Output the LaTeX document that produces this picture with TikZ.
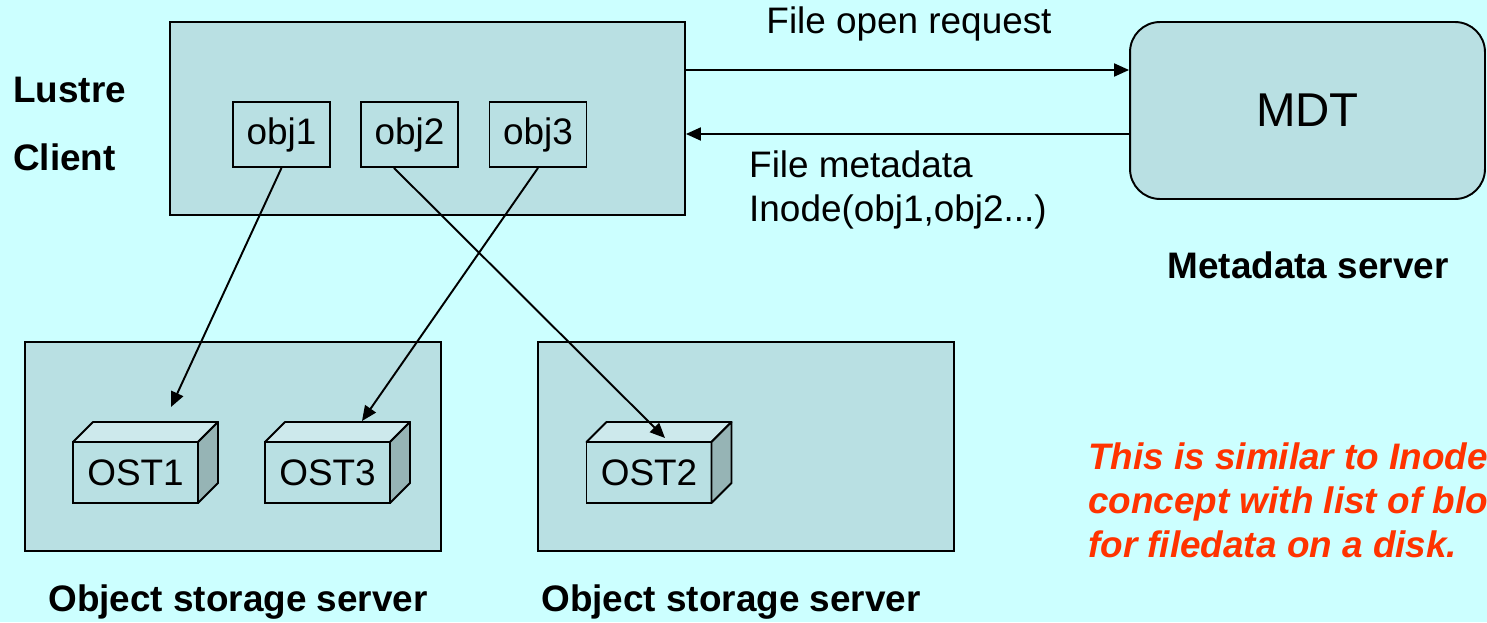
\documentclass[tikz,border=0pt]{standalone}
\usepackage{fontspec}
\setmainfont{Liberation Sans}
\usetikzlibrary{arrows.meta}
\definecolor{bgcyan}{RGB}{204,255,255}
\definecolor{boxfill}{RGB}{185,224,227}
\definecolor{cubetop}{RGB}{205,233,236}
\definecolor{cubeside}{RGB}{150,180,181}
\definecolor{notered}{RGB}{255,51,0}

\begin{document}
\begin{tikzpicture}[x=0.02cm,y=-0.02cm,
	every node/.style={font=\fontsize{21}{25.5}\selectfont},
	server/.style={draw,line width=1.1pt,fill=boxfill,minimum width=#1,minimum height=4.18cm},
	obj/.style={draw,line width=1.1pt,fill=boxfill,minimum width=1.94cm,minimum height=1.3cm,inner sep=0pt},
	ost/.style={draw,line width=1.1pt,fill=boxfill,minimum width=2.5cm,minimum height=1.22cm,inner sep=0pt,outer sep=0pt},
	title/.style={font=\fontsize{21}{25.5}\selectfont\bfseries},
	msg/.style={line width=1.1pt,-{Triangle[length=0.3cm,width=0.26cm]}}]

	\useasboundingbox[fill=bgcyan] (0,0) rectangle (1487,622);

	% client side
	\node[server=10.3cm,minimum height=3.86cm] (client) at (427.5,118.5) {};
	\node[title,anchor=west] (lustre) at (7,90) {Lustre};
	\node[title,anchor=west] (clientlbl) at (7,157) {Client};
	\node[obj] (obj1) at (281.5,134.5) {obj1};
	\node[obj] (obj2) at (409.5,134.5) {obj2};
	\node[obj] (obj3) at (538,134.5) {obj3};

	% metadata server
	\node[draw,line width=1.1pt,fill=boxfill,rounded corners=0.6cm,minimum width=7.1cm,minimum height=3.54cm,
		font=\fontsize{27}{31}\selectfont] (mdt) at (1307.5,110.5) {MDT};
	\node[title] (mdslbl) at (1308,265) {Metadata server};

	\draw[msg] (client.east |- 0,70) -- (mdt.west |- 0,70);
	\draw[msg] (mdt.west |- 0,134) -- (client.east |- 0,134);
	\node (openreq) at (909,24) {File open request};
	\node[anchor=west,align=left] (metadata) at (743,190) {File metadata\\Inode(obj1,obj2...)};

	% object storage servers
	\node[server=8.32cm] (oss1) at (233,446.5) {};
	\node[server=8.32cm] (oss2) at (746,446.5) {};
	\node[title] (oss1lbl) at (238,602) {Object storage server};
	\node[title] (oss2lbl) at (731,602) {Object storage server};

	\node[ost] (ost1) at (135.5,472.5) {OST1};
	\node[ost] (ost3) at (327.5,472.5) {OST3};
	\node[ost] (ost2) at (649,472.5) {OST2};
	\foreach \o in {ost1,ost2,ost3}{
		\filldraw[line width=1.1pt,line join=round,fill=cubetop] (\o.north west) -- ([shift={(20,-20)}]\o.north west)
			-- ([shift={(20,-20)}]\o.north east) -- (\o.north east) -- cycle;
		\filldraw[line width=1.1pt,line join=round,fill=cubeside] (\o.north east) -- ([shift={(20,-20)}]\o.north east)
			-- ([shift={(20,-20)}]\o.south east) -- (\o.south east) -- cycle;
	}

	\coordinate (tip1) at (171,407);
	\coordinate (tip2) at (665,438);
	\coordinate (tip3) at (362,421);
	\draw[msg] (obj1.south) -- (tip1);
	\draw[msg] ([xshift=-0.31cm]obj2.south) -- (tip2);
	\draw[msg] (obj3.south) -- (tip3);

	\node[anchor=west,align=left,text=notered,font=\fontsize{21}{25}\selectfont\bfseries\itshape] (note) at (1082,500)
		{This is similar to Inode\\concept with list of blocks\\for filedata on a disk.};
\end{tikzpicture}
\end{document}
